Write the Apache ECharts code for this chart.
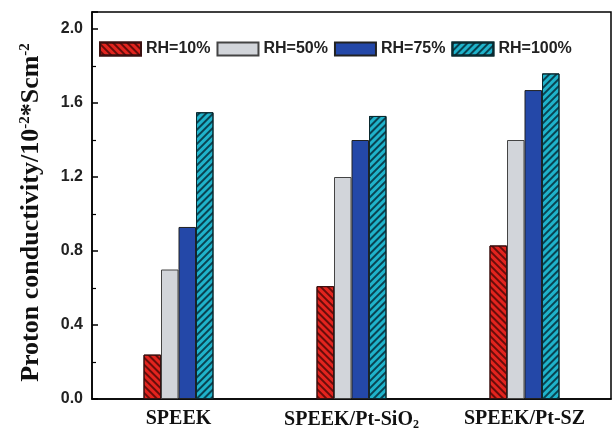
<!DOCTYPE html>
<html>
<head>
<meta charset="utf-8">
<script src="https://cdn.jsdelivr.net/npm/echarts@6/dist/echarts.min.js"></script>
<style>
html,body{margin:0;padding:0;background:#fff;}
#chart{width:614px;height:434px;}
</style>
</head>
<body>
<div id="chart"></div>
<script>
var categories = ['SPEEK', 'SPEEK/Pt-SiO2', 'SPEEK/Pt-SZ'];
var seriesNames = ['RH=10%', 'RH=50%', 'RH=75%', 'RH=100%'];
var rh10 = [0.24, 0.61, 0.83];
var rh50 = [0.70, 1.20, 1.40];
var rh75 = [0.93, 1.40, 1.67];
var rh100 = [1.55, 1.53, 1.76];
var yTicks = [0.0, 0.4, 0.8, 1.2, 1.6, 2.0];

var chart = echarts.init(document.getElementById('chart'), null, {renderer: 'canvas'});

function hatch(rot, col) {
  return {symbol: 'rect', symbolSize: 1, dashArrayX: [1, 0], dashArrayY: [2, 3], rotation: rot, color: col};
}

var styles = [
  {color: '#e3241e', borderColor: '#3a1010', borderWidth: 1, decal: hatch(Math.PI / 4, 'rgba(40,0,0,0.65)')},
  {color: '#d2d5da', borderColor: '#444', borderWidth: 1},
  {color: '#2448a8', borderColor: '#222', borderWidth: 1},
  {color: '#1fb3cb', borderColor: '#0a2a30', borderWidth: 1, decal: hatch(-Math.PI / 4, 'rgba(0,20,30,0.7)')}
];
var values = [rh10, rh50, rh75, rh100];

chart.setOption({
  animation: false,
  backgroundColor: '#fff',
  aria: {enabled: false},
  grid: {left: 92, right: 3, top: 12, bottom: 35, show: true, borderColor: '#000', borderWidth: 1.5, backgroundColor: 'transparent'},
  legend: {
    left: 99, top: 41, padding: 0,
    icon: 'rect', itemWidth: 41, itemHeight: 13, itemGap: 6,
    data: seriesNames,
    textStyle: {fontFamily: 'Liberation Sans', fontWeight: 'bold', fontSize: 16, color: '#222'}
  },
  xAxis: {
    type: 'category',
    data: categories,
    axisLine: {lineStyle: {color: '#000', width: 1.5}},
    axisTick: {show: false},
    axisLabel: {
      interval: 0,
      margin: 10,
      fontFamily: 'Liberation Serif', fontWeight: 'bold', fontSize: 20, color: '#111',
      formatter: function (v) { return v.replace('SiO2', 'SiO{sub|2}'); },
      rich: {sub: {fontFamily: 'Liberation Serif', fontWeight: 'bold', fontSize: 12, color: '#111', verticalAlign: 'bottom', padding: [10, 0, 0, 0]}}
    }
  },
  yAxis: {
    type: 'value',
    min: 0, max: 2.092, interval: 0.4,
    name: 'Proton conductivity/10{sup|-2}*Scm{sup|-2}',
    nameLocation: 'middle', nameGap: 48,
    nameTextStyle: {
      fontFamily: 'Liberation Serif', fontWeight: 'bold', fontSize: 26, color: '#111',
      padding: [0, 14, 0, 0],
      rich: {sup: {fontFamily: 'Liberation Serif', fontWeight: 'bold', fontSize: 15, color: '#111', verticalAlign: 'top'}}
    },
    axisLine: {show: true, lineStyle: {color: '#000', width: 1.5}},
    axisTick: {show: true, inside: true, length: 6, lineStyle: {color: '#000', width: 1.5}},
    minorTick: {show: true, splitNumber: 2, length: 4, lineStyle: {color: '#000', width: 1.2}},
    splitLine: {show: false},
    axisLabel: {
      margin: 9,
      fontFamily: 'Liberation Sans', fontWeight: 'bold', fontSize: 16, color: '#222',
      formatter: function (v) {
        for (var i = 0; i < yTicks.length; i++) { if (Math.abs(v - yTicks[i]) < 1e-6) return yTicks[i].toFixed(1); }
        return '';
      }
    }
  },
  series: seriesNames.map(function (n, i) {
    return {
      name: n, type: 'bar', data: values[i],
      barWidth: 17.5, barGap: '0%',
      itemStyle: styles[i]
    };
  })
});
</script>
</body>
</html>
